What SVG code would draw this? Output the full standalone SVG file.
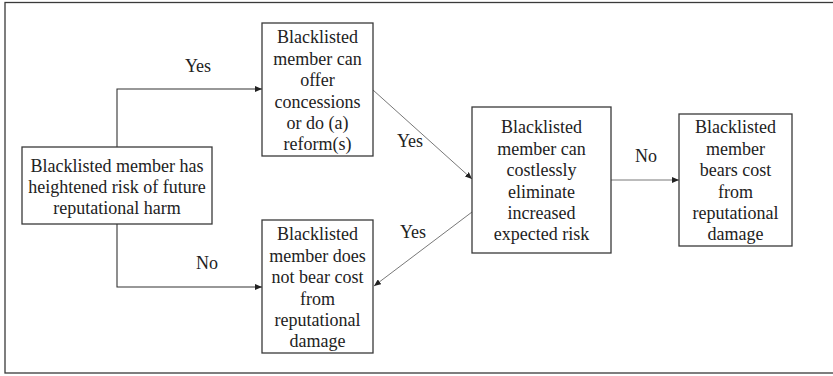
<svg xmlns="http://www.w3.org/2000/svg" width="833" height="376" viewBox="0 0 833 376" font-family="Liberation Serif, Tinos, DejaVu Serif, serif">
<style>
  .box { fill: #ffffff; stroke: #3a3a3a; stroke-width: 1.3; }
  .frame { fill: #ffffff; stroke: #3a3a3a; stroke-width: 1.3; }
  .t { font-family: 'Liberation Serif', Tinos, 'DejaVu Serif', serif; font-size: 18px; fill: #222222; text-anchor: middle; }
  .conn { fill: none; stroke: #333333; stroke-width: 1.1; }
  .diag { fill: none; stroke: #555555; stroke-width: 0.8; }
</style>
<defs>
  <marker id="arrow" markerUnits="userSpaceOnUse" markerWidth="8" markerHeight="6" refX="7" refY="3" orient="auto">
    <path d="M0,0 L7,3 L0,6 Z" fill="#222222"/>
  </marker>
</defs>
<rect class="frame" x="5" y="2.5" width="840" height="370.5"/>
<g id="connectors">
  <path class="conn" d="M117,147 V89 H262" marker-end="url(#arrow)"/>
  <path class="conn" d="M117,224 V287 H262" marker-end="url(#arrow)"/>
  <line class="diag" x1="373" y1="90" x2="472" y2="179" marker-end="url(#arrow)"/>
  <line class="diag" x1="472" y1="212" x2="374" y2="286" marker-end="url(#arrow)"/>
  <line class="diag" x1="611" y1="180" x2="679" y2="180" marker-end="url(#arrow)"/>
  <text class="t" x="198" y="72">Yes</text>
  <text class="t" x="207" y="269">No</text>
  <text class="t" x="410" y="147">Yes</text>
  <text class="t" x="413" y="238">Yes</text>
  <text class="t" x="646" y="162">No</text>
</g>
<g id="start">
  <rect class="box" x="22" y="147" width="190" height="77"/>
  <text class="t" x="117" y="172">Blacklisted member has</text>
  <text class="t" x="117" y="193">heightened risk of future</text>
  <text class="t" x="117" y="214">reputational harm</text>
</g>
<g id="concessions">
  <rect class="box" x="262" y="23" width="111" height="133"/>
  <text class="t" x="317.5" y="43">Blacklisted</text>
  <text class="t" x="317.5" y="64.5">member can</text>
  <text class="t" x="317.5" y="86">offer</text>
  <text class="t" x="317.5" y="107.5">concessions</text>
  <text class="t" x="317.5" y="129">or do (a)</text>
  <text class="t" x="317.5" y="150">reform(s)</text>
</g>
<g id="nocost">
  <rect class="box" x="262" y="220" width="111" height="133"/>
  <text class="t" x="317.5" y="240">Blacklisted</text>
  <text class="t" x="317.5" y="261.5">member does</text>
  <text class="t" x="317.5" y="283">not bear cost</text>
  <text class="t" x="317.5" y="304.5">from</text>
  <text class="t" x="317.5" y="326">reputational</text>
  <text class="t" x="317.5" y="347">damage</text>
</g>
<g id="eliminate">
  <rect class="box" x="472" y="107" width="139" height="146"/>
  <text class="t" x="541.5" y="133">Blacklisted</text>
  <text class="t" x="541.5" y="154.5">member can</text>
  <text class="t" x="541.5" y="176">costlessly</text>
  <text class="t" x="541.5" y="197.5">eliminate</text>
  <text class="t" x="541.5" y="219">increased</text>
  <text class="t" x="541.5" y="240">expected risk</text>
</g>
<g id="bearscost">
  <rect class="box" x="679" y="114" width="113" height="132"/>
  <text class="t" x="735.5" y="133">Blacklisted</text>
  <text class="t" x="735.5" y="154.5">member</text>
  <text class="t" x="735.5" y="176">bears cost</text>
  <text class="t" x="735.5" y="197.5">from</text>
  <text class="t" x="735.5" y="219">reputational</text>
  <text class="t" x="735.5" y="240">damage</text>
</g>
</svg>
